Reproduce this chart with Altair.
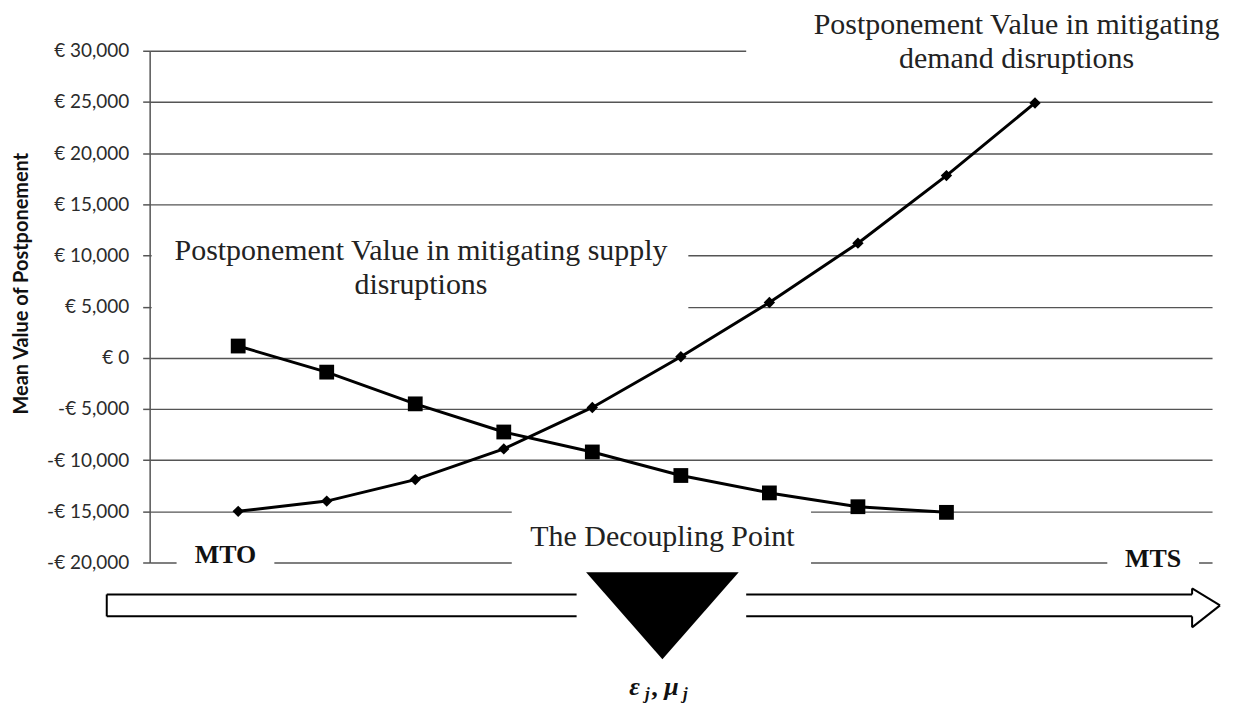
import altair as alt
import pandas as pd

# ---- data ----
supply_x = [1, 2, 3, 4, 5, 6, 7, 8, 9]
supply_val = [1150, -1400, -4500, -7250, -9200, -11500, -13200, -14550, -15100]
demand_x = [1, 2, 3, 4, 5, 6, 7, 8, 9, 10]
demand_val = [-15000, -14000, -11900, -8900, -4850, 100, 5400, 11200, 17800, 24900]
y_ticks = [-20000, -15000, -10000, -5000, 0, 5000, 10000, 15000, 20000, 25000, 30000]

supply_df = pd.DataFrame({"x": supply_x, "v": supply_val})
demand_df = pd.DataFrame({"x": demand_x, "v": demand_val})
one = pd.DataFrame({"a": [0]})

W, H = 1065, 513
SERIF = "Liberation Serif"

xs = alt.Scale(domain=[0, 12], nice=False, zero=False)
ys = alt.Scale(domain=[-20000, 30000], nice=False, zero=False)

yaxis = alt.Axis(
    values=y_ticks,
    labelExpr="datum.value < 0 ? '-€ ' + format(-datum.value, ',') : '€ ' + format(datum.value, ',')",
    labelFont="Lato", labelFontSize=19, labelColor="#2b2b2b", labelPadding=14,
    tickSize=7, tickColor="#555", tickWidth=1.5,
    domainColor="#555", domainWidth=1.5,
    grid=True, gridColor="#555", gridWidth=1.5,
    title="Mean Value of Postponement", titleFont="Lato", titleFontSize=20,
    titleFontWeight="bold", titleColor="#111", titleX=-128, titleY=233,
    titleAlign="center", titleBaseline="middle", titleAngle=270,
)

base_s = alt.Chart(supply_df).encode(
    x=alt.X("x:Q", scale=xs, axis=None),
    y=alt.Y("v:Q", scale=ys, axis=yaxis),
)
supply_line = base_s.mark_line(color="black", strokeWidth=3)
supply_pts = base_s.mark_point(shape="square", size=220, filled=True, color="black", opacity=1)

base_d = alt.Chart(demand_df).encode(
    x=alt.X("x:Q", scale=xs, axis=None),
    y=alt.Y("v:Q", scale=ys),
)
demand_line = base_d.mark_line(color="black", strokeWidth=3)
demand_pts = base_d.mark_point(shape="diamond", size=130, filled=True, color="black", opacity=1)


def wrect(x1, x2, y1, y2):
    return alt.Chart(one).mark_rect(color="white", opacity=1).encode(
        x=alt.value(x1), x2=alt.value(x2), y=alt.value(y1), y2=alt.value(y2))


def rule(x1, y1, x2, y2, w=2):
    return alt.Chart(one).mark_rule(color="black", strokeWidth=w).encode(
        x=alt.value(x1), y=alt.value(y1), x2=alt.value(x2), y2=alt.value(y2))


def txt(s, x, y, size=30, weight="normal", style="normal", font=SERIF, color="#222"):
    return alt.Chart(one).mark_text(
        text=s, font=font, fontSize=size, fontWeight=weight, fontStyle=style,
        color=color, align="center", baseline="middle").encode(
        x=alt.value(x), y=alt.value(y))


# white boxes behind the text labels (they hide parts of the gridlines)
boxes = [
    wrect(598, 1085, -45, 30),      # top-right label
    wrect(2, 540, 170, 278),        # supply label
    wrect(27, 125, 488, 530),       # MTO
    wrect(363, 663, 445, 530),      # decoupling label
    wrect(960, 1052, 488, 530),     # MTS
]

# block arrow along the bottom
arrow = [
    rule(-43, 545, 428, 545), rule(-43, 567, 428, 567), rule(-43, 545, -43, 567),
    rule(598, 545, 1045, 545), rule(598, 567, 1045, 567),
    rule(1045, 539, 1045, 545), rule(1045, 567, 1045, 578),
    rule(1045, 539, 1073, 556), rule(1073, 556, 1045, 578),
]

triangle = alt.Chart(one).mark_point(
    shape="M -1 -0.57 L 1 -0.57 L 0 0.57 Z", size=153 * 153, filled=True,
    color="black", opacity=1).encode(x=alt.value(514), y=alt.value(566.5))

texts = [
    txt("Postponement Value in mitigating", 869, -26),
    txt("demand disruptions", 869, 8),
    txt("Postponement Value in mitigating supply", 272, 201),
    txt("disruptions", 272, 235),
    txt("The Decoupling Point", 514, 487),
    txt("MTO", 76, 505, size=26, weight="bold", color="#111"),
    txt("MTS", 1006, 510, size=26, weight="bold", color="#111"),
    txt("ε", 486, 638, size=26, weight="bold", style="italic", color="#111"),
    txt("j", 499, 645, size=17, weight="bold", style="italic", color="#111"),
    txt(",", 506, 639, size=26, weight="bold", color="#111"),
    txt("μ", 523, 638, size=26, weight="bold", style="italic", color="#111"),
    txt("j", 537, 645, size=17, weight="bold", style="italic", color="#111"),
]

chart = alt.layer(
    *boxes, supply_line, supply_pts, demand_line, demand_pts,
    *arrow, triangle, *texts,
).properties(
    width=W, height=H,
    padding={"left": 142, "top": 42, "right": 20, "bottom": 146},
    autosize=alt.AutoSizeParams(type="none"),
).configure(background="white").configure_view(stroke="transparent", strokeWidth=0)

chart.save("out.html", embed_options={"renderer": "svg", "actions": False})
